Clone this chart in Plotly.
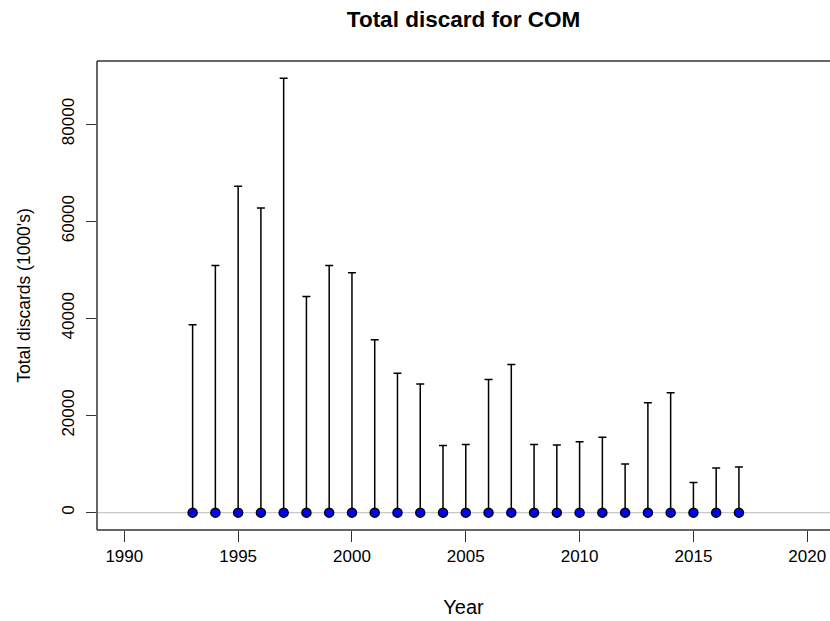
import plotly.graph_objects as go

years = list(range(1993, 2018))
upper = [38700, 50900, 67200, 62700, 89400, 44500, 50900, 49400, 35600,
         28700, 26500, 13800, 14000, 27400, 30500, 14000, 13900, 14600,
         15500, 10000, 22600, 24700, 6200, 9200, 9400]
means = [0] * len(years)

x_ticks = [1990, 1995, 2000, 2005, 2010, 2015, 2020]
y_ticks = [0, 20000, 40000, 60000, 80000]

fig = go.Figure()
fig.add_trace(go.Scatter(
    x=years, y=means, mode="markers",
    marker=dict(size=9, color="blue", line=dict(color="black", width=1.5)),
    error_y=dict(type="data", symmetric=False, array=upper,
                 arrayminus=[0] * len(years), color="black",
                 thickness=1.5, width=4),
    showlegend=False,
))

fig.add_shape(type="line", xref="paper", yref="y", x0=0, x1=1, y0=0, y1=0,
              line=dict(color="#c8c8c8", width=1.2), layer="below")
# box: left, top, bottom (right edge falls off the page)
for x0, y0, x1, y1 in [(0, 0, 0, 1), (0, 1, 1, 1), (0, 0, 1, 0)]:
    fig.add_shape(type="line", xref="paper", yref="paper",
                  x0=x0, y0=y0, x1=x1, y1=y1,
                  line=dict(color="#333333", width=1.5))

font = "Liberation Sans, Arial, sans-serif"
fig.update_layout(
    width=830, height=621,
    margin=dict(l=97, r=0, t=61, b=91),
    paper_bgcolor="white", plot_bgcolor="white",
    font=dict(family=font, size=17, color="black"),
    title=dict(text="<b>Total discard for COM</b>", x=0.5, xref="paper",
               y=1 - 19 / 621, yref="container", xanchor="center",
               yanchor="middle", font=dict(size=22.5, color="black")),
    xaxis=dict(range=[1988.8, 2021.0], tickvals=x_ticks, ticks="outside",
               ticklen=11, tickwidth=1.2, tickcolor="#333333",
               showgrid=False, zeroline=False, showline=False,
               automargin=False, tickformat="d",
               title=dict(text="Year", standoff=34)),
    yaxis=dict(range=[-3576, 92976], tickvals=y_ticks,
               ticktext=[str(v) for v in y_ticks], ticks="outside",
               ticklen=10, tickwidth=1.2, tickcolor="#333333",
               ticklabelstandoff=5, automargin=False,
               tickangle=-90, showgrid=False, zeroline=False, showline=False,
               title=dict(text="Total discards (1000's)", standoff=24,
                          font=dict(size=17.5))),
)

# drop the page's default body margin so the figure fills the window
fig.write_html("out.html", config={"displayModeBar": False},
               post_script="document.body.style.margin='0';"
                           "document.body.style.overflow='hidden';")
